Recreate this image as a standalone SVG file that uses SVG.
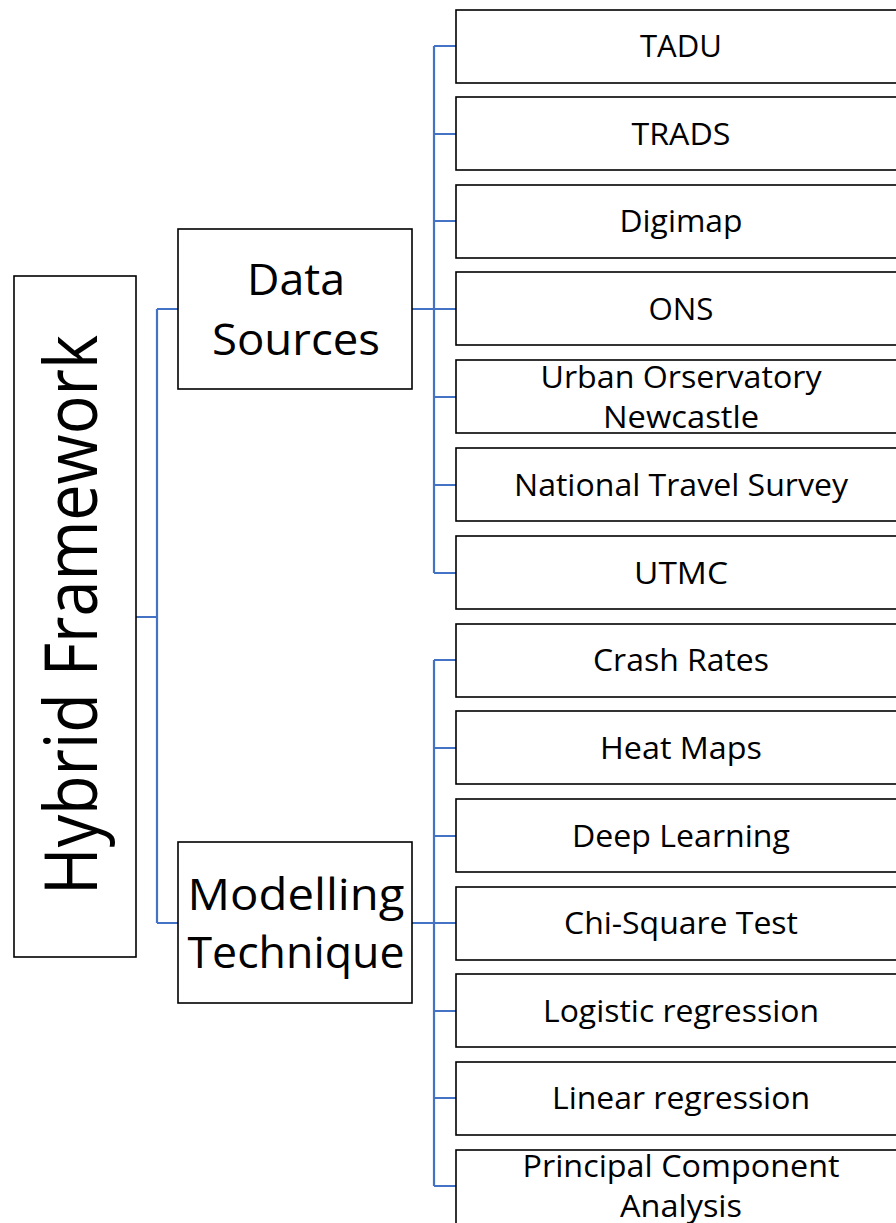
<svg xmlns="http://www.w3.org/2000/svg" width="896" height="1223" viewBox="0 0 896 1223">
  <style>
    .box { fill: #ffffff; stroke: #000000; stroke-width: 1.6; }
    .link { fill: none; stroke: #4472C4; stroke-width: 2.2; }
    text { font-family: "Open Sans", "Liberation Sans", Arial, sans-serif; fill: #000000; text-anchor: middle; }
    .leaf { font-size: 31px; }
    .mid { font-size: 44.5px; }
    .root { font-size: 73px; }
  </style>
  <rect width="896" height="1223" fill="#ffffff"/>

  <!-- connectors -->
  <g id="connectors">
    <path class="link" d="M136,617 H157 M157,309 V923 M157,309 H178 M157,923 H178"/>
    <path class="link" d="M412,309 H434 M434,46 V573 M434,46 H456 M434,134 H456 M434,221 H456 M434,309 H456 M434,397 H456 M434,485 H456 M434,573 H456"/>
    <path class="link" d="M412,923 H434 M434,660 V1186 M434,660 H456 M434,748 H456 M434,836 H456 M434,923 H456 M434,1011 H456 M434,1098 H456 M434,1186 H456"/>
  </g>

  <!-- root -->
  <g id="hybrid-framework">
    <rect class="box" x="14" y="276" width="122" height="681"/>
    <text class="root" transform="translate(97,615) rotate(-90)" textLength="560" lengthAdjust="spacingAndGlyphs">Hybrid Framework</text>
  </g>

  <!-- level 2 -->
  <g id="data-sources">
    <rect class="box" x="178" y="229" width="234" height="160"/>
    <text class="mid" x="296" y="295" textLength="98" lengthAdjust="spacingAndGlyphs">Data</text>
    <text class="mid" x="296" y="355" textLength="168" lengthAdjust="spacingAndGlyphs">Sources</text>
  </g>
  <g id="modelling-technique">
    <rect class="box" x="178" y="842" width="234" height="161"/>
    <text class="mid" x="296" y="910" textLength="217" lengthAdjust="spacingAndGlyphs">Modelling</text>
    <text class="mid" x="296" y="968" textLength="217" lengthAdjust="spacingAndGlyphs">Technique</text>
  </g>

  <!-- data source leaves -->
  <g id="tadu">
    <rect class="box" x="456" y="10" width="460" height="73"/>
    <text class="leaf" x="681" y="57" textLength="82" lengthAdjust="spacingAndGlyphs">TADU</text>
  </g>
  <g id="trads">
    <rect class="box" x="456" y="97" width="460" height="73"/>
    <text class="leaf" x="681" y="145" textLength="99" lengthAdjust="spacingAndGlyphs">TRADS</text>
  </g>
  <g id="digimap">
    <rect class="box" x="456" y="185" width="460" height="73"/>
    <text class="leaf" x="681" y="232" textLength="123" lengthAdjust="spacingAndGlyphs">Digimap</text>
  </g>
  <g id="ons">
    <rect class="box" x="456" y="272" width="460" height="73"/>
    <text class="leaf" x="681" y="320" textLength="65" lengthAdjust="spacingAndGlyphs">ONS</text>
  </g>
  <g id="urban-observatory">
    <rect class="box" x="456" y="360" width="460" height="73"/>
    <text class="leaf" x="681" y="388" textLength="281" lengthAdjust="spacingAndGlyphs">Urban Orservatory</text>
    <text class="leaf" x="681" y="428" textLength="156" lengthAdjust="spacingAndGlyphs">Newcastle</text>
  </g>
  <g id="national-travel-survey">
    <rect class="box" x="456" y="448" width="460" height="73"/>
    <text class="leaf" x="681" y="496" textLength="334" lengthAdjust="spacingAndGlyphs">National Travel Survey</text>
  </g>
  <g id="utmc">
    <rect class="box" x="456" y="536" width="460" height="73"/>
    <text class="leaf" x="681" y="584" textLength="94" lengthAdjust="spacingAndGlyphs">UTMC</text>
  </g>

  <!-- modelling technique leaves -->
  <g id="crash-rates">
    <rect class="box" x="456" y="624" width="460" height="73"/>
    <text class="leaf" x="681" y="671" textLength="176" lengthAdjust="spacingAndGlyphs">Crash Rates</text>
  </g>
  <g id="heat-maps">
    <rect class="box" x="456" y="711" width="460" height="73"/>
    <text class="leaf" x="681" y="759" textLength="162" lengthAdjust="spacingAndGlyphs">Heat Maps</text>
  </g>
  <g id="deep-learning">
    <rect class="box" x="456" y="799" width="460" height="73"/>
    <text class="leaf" x="681" y="847" textLength="218" lengthAdjust="spacingAndGlyphs">Deep Learning</text>
  </g>
  <g id="chi-square-test">
    <rect class="box" x="456" y="887" width="460" height="73"/>
    <text class="leaf" x="681" y="934" textLength="234" lengthAdjust="spacingAndGlyphs">Chi-Square Test</text>
  </g>
  <g id="logistic-regression">
    <rect class="box" x="456" y="974" width="460" height="73"/>
    <text class="leaf" x="681" y="1022" textLength="276" lengthAdjust="spacingAndGlyphs">Logistic regression</text>
  </g>
  <g id="linear-regression">
    <rect class="box" x="456" y="1062" width="460" height="73"/>
    <text class="leaf" x="681" y="1109" textLength="258" lengthAdjust="spacingAndGlyphs">Linear regression</text>
  </g>
  <g id="pca">
    <rect class="box" x="456" y="1150" width="460" height="90"/>
    <text class="leaf" x="681" y="1177" textLength="317" lengthAdjust="spacingAndGlyphs">Principal Component</text>
    <text class="leaf" x="681" y="1217" textLength="122" lengthAdjust="spacingAndGlyphs">Analysis</text>
  </g>
</svg>
